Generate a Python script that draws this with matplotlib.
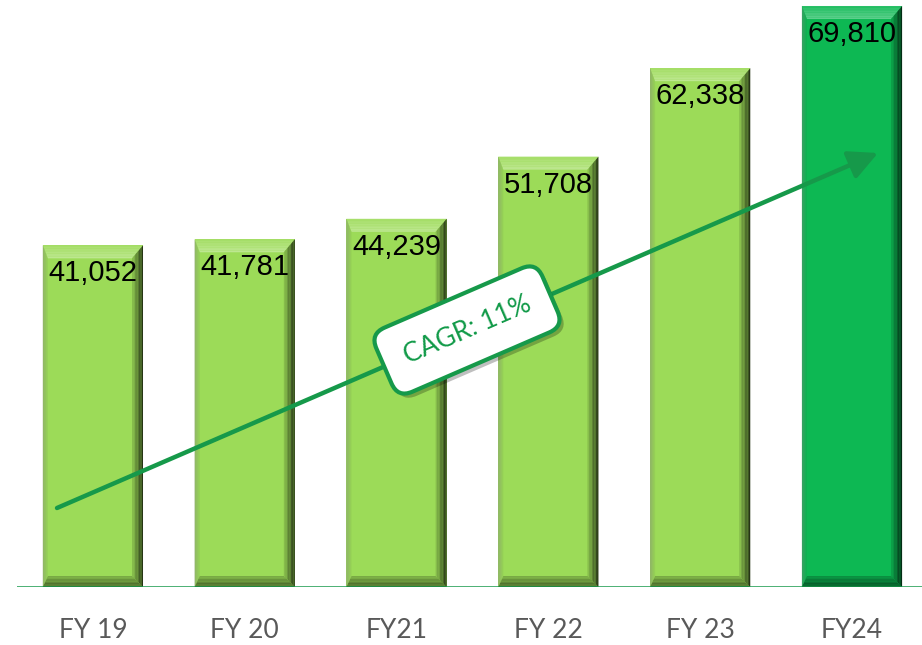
import matplotlib
matplotlib.use('Agg')
import matplotlib.pyplot as plt
from matplotlib.patches import Polygon, Rectangle
import matplotlib.patheffects as pe

years = ['FY 19', 'FY 20', 'FY21', 'FY 22', 'FY 23', 'FY24']
revenue = [41052, 41781, 44239, 51708, 62338, 69810]
cagr_label = 'CAGR: 11%'

LIGHT = '#9cdb58'
DARK = '#0db853'
LINE_GREEN = '#16994a'
GRAY_TXT = '#595959'

W, H = 922, 645
fig = plt.figure(figsize=(W / 100, H / 100), dpi=100)
fig.patch.set_facecolor('white')

# axes placed in pixel terms: baseline at y=587 from top, bars ~152px apart
x_unit = 151.8
left_px, base_px = 17, 587
ax = fig.add_axes([left_px / W, (H - base_px) / H, (W - left_px) / W, base_px / H])
ax.set_xlim(-0.5, (W - 93) / x_unit)
ax.set_ylim(0, 70530)
ax.axis('off')
y_unit = base_px / 70530  # px per value


def mix(c1, c2, t):
    a = matplotlib.colors.to_rgb(c1)
    b = matplotlib.colors.to_rgb(c2)
    return tuple(a[i] * (1 - t) + b[i] * t for i in range(3))


def bevel_bar(xc, val, color, width=0.66):
    x0, x1 = xc - width / 2, xc + width / 2
    y0, y1 = 0, val
    ax.add_patch(Rectangle((x0, y0), width, val, facecolor=color,
                           edgecolor='none', zorder=2))
    bl, br = 5 / x_unit, 11 / x_unit
    bt, bb = 13 / y_unit, 11 / y_unit
    sides = {
        'top': (mix(color, 'white', 0.1), mix(color, 'white', 0.35)),
        'right': (mix(color, 'black', 0.8), mix(color, 'black', 0.1)),
        'bottom': (mix(color, 'black', 0.6), mix(color, 'black', 0.2)),
        'left': (mix(color, '#808080', 0.55), mix(color, 'black', 0.05)),
    }
    n = 8

    def rect(t):
        return (x0 + bl * t, y0 + bb * t, x1 - br * t, y1 - bt * t)

    for i in range(n):
        ta, tb = i / n, (i + 1) / n
        La, Ba, Ra, Ta = rect(ta)
        Lb, Bb, Rb, Tb = rect(tb)
        tm = (ta + tb) / 2
        polys = {
            'top': [(La, Ta), (Ra, Ta), (Rb, Tb), (Lb, Tb)],
            'right': [(Ra, Ta), (Ra, Ba), (Rb, Bb), (Rb, Tb)],
            'bottom': [(La, Ba), (Ra, Ba), (Rb, Bb), (Lb, Bb)],
            'left': [(La, Ta), (La, Ba), (Lb, Bb), (Lb, Tb)],
        }
        for k, pts in polys.items():
            c_out, c_in = sides[k]
            ax.add_patch(Polygon(pts, closed=True, facecolor=mix(c_out, c_in, tm),
                                 edgecolor='none', zorder=3))


for i, (lab, v) in enumerate(zip(years, revenue)):
    col = DARK if i == len(revenue) - 1 else LIGHT
    bevel_bar(i, v, col)
    ax.annotate(f'{v:,}', xy=(i, v), xytext=(0, -10), textcoords='offset points',
                ha='center', va='top', fontsize=21, family='Liberation Sans',
                color='black', zorder=5)
    ax.text(i, -43 / y_unit, lab, ha='center', va='center', fontsize=19,
            family='Lato', color=GRAY_TXT, clip_on=False)

# baseline
ax.axhline(0, color=LINE_GREEN, lw=1.8, zorder=4)

# trend arrow (figure pixel coords)
ax.annotate('', xy=(878, H - 153), xytext=(57, H - 508),
            xycoords='figure pixels', textcoords='figure pixels',
            arrowprops=dict(arrowstyle='-|>,head_length=0.8,head_width=0.4',
                            mutation_scale=22, color=LINE_GREEN, lw=3.2,
                            shrinkA=0, shrinkB=0),
            zorder=6)

t = fig.text(467 / W, (H - 330) / H, cagr_label, ha='center', va='center',
             rotation=23.4, rotation_mode='anchor', fontsize=19, family='Lato',
             color='#119a48', zorder=7,
             bbox=dict(boxstyle='round,pad=0.85,rounding_size=0.6',
                       facecolor='white', edgecolor=LINE_GREEN, linewidth=3))
t.get_bbox_patch().set_path_effects([
    pe.SimplePatchShadow(offset=(3, -3), shadow_rgbFace='black', alpha=0.25),
    pe.Normal()])

fig.savefig('out.png', dpi=100)
